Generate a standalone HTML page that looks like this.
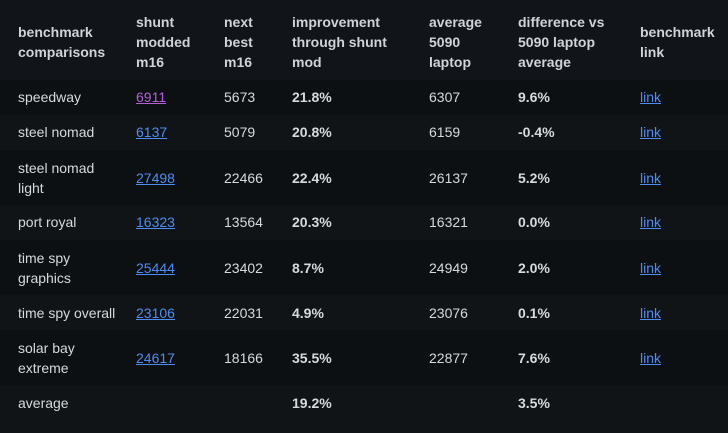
<!DOCTYPE html>
<html><head><style>
body{margin:0;width:728px;height:433px;background:#0e1114;font-family:"Liberation Sans",sans-serif;font-size:14px;color:#d7dadc;overflow:hidden}
.r{position:absolute;left:0;width:728px}
.c{position:absolute;line-height:20px}
b{color:#d7dadc}
a{color:#4f8cf0;text-decoration:underline}
.h{font-weight:bold;color:#d0d4d8}
</style></head><body>
<div class="r" style="top:0;height:80px;background:#111418"></div>
<div class="r" style="top:80px;height:35px;background:#0d1013"></div>
<div class="r" style="top:115px;height:35px;background:#111417"></div>
<div class="r" style="top:150px;height:55px;background:#0d1013"></div>
<div class="r" style="top:205px;height:35px;background:#111417"></div>
<div class="r" style="top:240px;height:55px;background:#0d1013"></div>
<div class="r" style="top:295px;height:35px;background:#111417"></div>
<div class="r" style="top:330px;height:55px;background:#0d1013"></div>
<div class="r" style="top:385px;height:48px;background:#111417"></div>

<div class="c h" style="left:18px;top:22px">benchmark<br>comparisons</div>
<div class="c h" style="left:136px;top:12px">shunt<br>modded<br>m16</div>
<div class="c h" style="left:224px;top:12px">next<br>best<br>m16</div>
<div class="c h" style="left:292px;top:12px">improvement<br>through shunt<br>mod</div>
<div class="c h" style="left:429px;top:12px">average<br>5090<br>laptop</div>
<div class="c h" style="left:518px;top:12px">difference vs<br>5090 laptop<br>average</div>
<div class="c h" style="left:640px;top:22px">benchmark<br>link</div>

<div class="c" style="left:18px;top:87px">speedway</div><div class="c" style="left:136px;top:87px"><a style="color:#b45fd8">6911</a></div><div class="c" style="left:224px;top:87px">5673</div><div class="c" style="left:292px;top:87px"><b>21.8%</b></div><div class="c" style="left:429px;top:87px">6307</div><div class="c" style="left:518px;top:87px"><b>9.6%</b></div><div class="c" style="left:640px;top:87px"><a>link</a></div>

<div class="c" style="left:18px;top:122px">steel nomad</div><div class="c" style="left:136px;top:122px"><a>6137</a></div><div class="c" style="left:224px;top:122px">5079</div><div class="c" style="left:292px;top:122px"><b>20.8%</b></div><div class="c" style="left:429px;top:122px">6159</div><div class="c" style="left:518px;top:122px"><b>-0.4%</b></div><div class="c" style="left:640px;top:122px"><a>link</a></div>

<div class="c" style="left:18px;top:158px">steel nomad<br>light</div><div class="c" style="left:136px;top:168px"><a>27498</a></div><div class="c" style="left:224px;top:168px">22466</div><div class="c" style="left:292px;top:168px"><b>22.4%</b></div><div class="c" style="left:429px;top:168px">26137</div><div class="c" style="left:518px;top:168px"><b>5.2%</b></div><div class="c" style="left:640px;top:168px"><a>link</a></div>

<div class="c" style="left:18px;top:212px">port royal</div><div class="c" style="left:136px;top:212px"><a>16323</a></div><div class="c" style="left:224px;top:212px">13564</div><div class="c" style="left:292px;top:212px"><b>20.3%</b></div><div class="c" style="left:429px;top:212px">16321</div><div class="c" style="left:518px;top:212px"><b>0.0%</b></div><div class="c" style="left:640px;top:212px"><a>link</a></div>

<div class="c" style="left:18px;top:248px">time spy<br>graphics</div><div class="c" style="left:136px;top:258px"><a>25444</a></div><div class="c" style="left:224px;top:258px">23402</div><div class="c" style="left:292px;top:258px"><b>8.7%</b></div><div class="c" style="left:429px;top:258px">24949</div><div class="c" style="left:518px;top:258px"><b>2.0%</b></div><div class="c" style="left:640px;top:258px"><a>link</a></div>

<div class="c" style="left:18px;top:303px">time spy overall</div><div class="c" style="left:136px;top:303px"><a>23106</a></div><div class="c" style="left:224px;top:303px">22031</div><div class="c" style="left:292px;top:303px"><b>4.9%</b></div><div class="c" style="left:429px;top:303px">23076</div><div class="c" style="left:518px;top:303px"><b>0.1%</b></div><div class="c" style="left:640px;top:303px"><a>link</a></div>

<div class="c" style="left:18px;top:338px">solar bay<br>extreme</div><div class="c" style="left:136px;top:348px"><a>24617</a></div><div class="c" style="left:224px;top:348px">18166</div><div class="c" style="left:292px;top:348px"><b>35.5%</b></div><div class="c" style="left:429px;top:348px">22877</div><div class="c" style="left:518px;top:348px"><b>7.6%</b></div><div class="c" style="left:640px;top:348px"><a>link</a></div>

<div class="c" style="left:18px;top:393px">average</div><div class="c" style="left:292px;top:393px"><b>19.2%</b></div><div class="c" style="left:518px;top:393px"><b>3.5%</b></div>
</body></html>
